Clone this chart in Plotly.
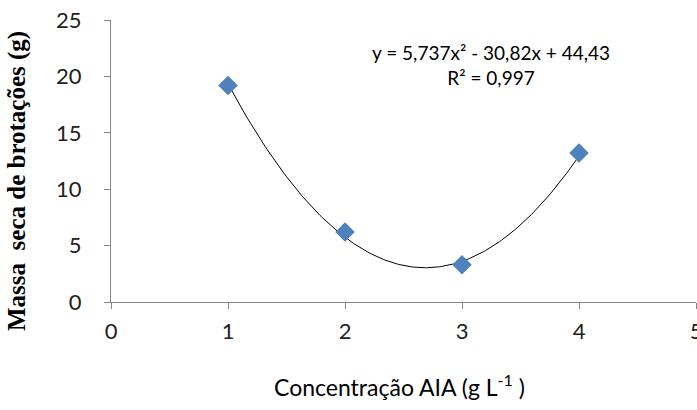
import numpy as np
import plotly.graph_objects as go

# Data
concentracao = [1, 2, 3, 4]
massa_seca = [19.2, 6.2, 3.3, 13.2]
trend_coeffs = [5.737, -30.82, 44.43]  # y = a x^2 + b x + c (from chart equation)
x_ticks = [0, 1, 2, 3, 4, 5]
y_ticks = [0, 5, 10, 15, 20, 25]

xs = np.linspace(min(concentracao), max(concentracao), 200)
ys = np.polyval(trend_coeffs, xs)

axis_color = "#868686"
tick_font = dict(family="Lato", size=22, color="#222222")

fig = go.Figure()
fig.add_trace(go.Scatter(x=xs, y=ys, mode="lines",
                         line=dict(color="#000000", width=1), hoverinfo="skip",
                         showlegend=False))
fig.add_trace(go.Scatter(x=concentracao, y=massa_seca, mode="markers",
                         marker=dict(symbol="diamond", size=15, color="#4F81BD"),
                         showlegend=False))

fig.update_layout(
    width=697, height=410,
    margin=dict(l=111, r=1, t=20, b=108, autoexpand=False),
    paper_bgcolor="white", plot_bgcolor="white",
    xaxis=dict(range=[0, 5], tickvals=x_ticks, showgrid=False, zeroline=False,
               showline=True, linecolor=axis_color, linewidth=1,
               ticks="outside", ticklen=6, tickcolor=axis_color,
               tickfont=tick_font, ticklabelstandoff=4,
               ticklabeloverflow="allow", automargin=False),
    yaxis=dict(range=[0, 25], tickvals=y_ticks, showgrid=False, zeroline=False,
               showline=True, linecolor=axis_color, linewidth=1,
               ticks="outside", ticklen=6, tickcolor=axis_color,
               tickfont=tick_font, ticklabelstandoff=18, automargin=False),
    annotations=[
        dict(text="y = 5,737x² - 30,82x + 44,43<br>R² = 0,997",
             xref="paper", yref="paper", x=(491 - 111) / 585, y=(302 - 65) / 282,
             xanchor="center", yanchor="middle", showarrow=False,
             font=dict(family="Lato", size=19, color="#000000"), align="center"),
        dict(text="Massa  seca de brotações (g)",
             xref="paper", yref="paper", x=(17 - 111) / 585, y=(302 - 181) / 282,
             xanchor="center", yanchor="middle", showarrow=False, textangle=-90,
             font=dict(family="Liberation Serif", size=25, color="#000000", weight="bold")),
        dict(text="Concentração AIA (g L<sup>-1</sup> )",
             xref="paper", yref="paper", x=(399 - 111) / 585, y=(302 - 385) / 282,
             xanchor="center", yanchor="middle", showarrow=False,
             font=dict(family="Lato", size=23, color="#000000")),
    ],
)

fig.write_html("out.html")
